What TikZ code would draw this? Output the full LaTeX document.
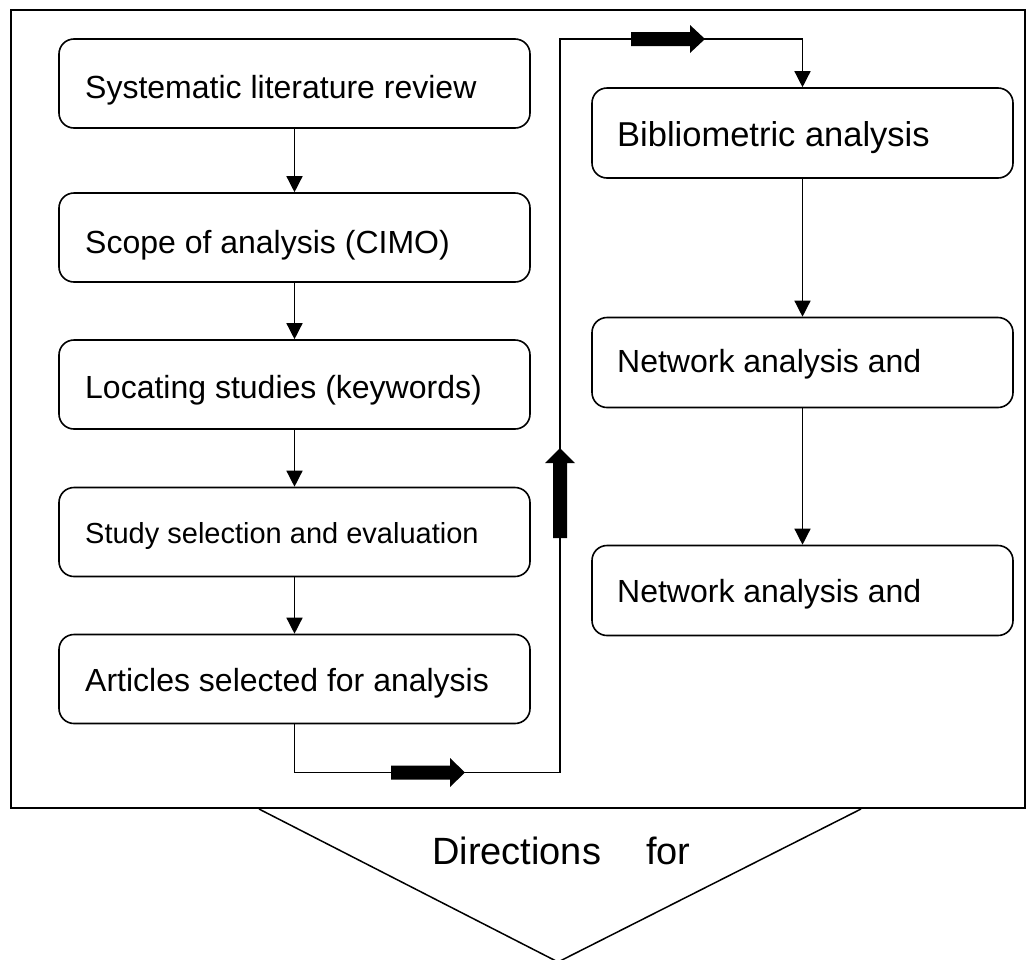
\documentclass[tikz,border=0pt]{standalone}
\usepackage{fontspec}
\setmainfont{Liberation Sans}
\usetikzlibrary{arrows.meta}
\begin{document}
\begin{tikzpicture}[x=1pt,y=-1pt,
  lbox/.style={draw, line width=1.6pt, rounded corners=15pt, minimum width=471pt, minimum height=89pt, inner sep=0pt},
  rbox/.style={draw, line width=1.6pt, rounded corners=15pt, minimum width=421pt, minimum height=90pt, inner sep=0pt},
  lbl/.style={inner sep=0pt, anchor=base west, font=\fontsize{32}{38}\selectfont},
  conn/.style={line width=1.4pt, -{Triangle[length=16pt,width=16pt]}},
  blockarrow/.style={fill=black}
]
\useasboundingbox (0,0) rectangle (1031,959);
% outer frame
\draw[line width=1.8pt] (11,10) rectangle (1025,808);
% triangle
\draw[line width=1.5pt] (259,809) -- (558,962) -- (861,809);
\node[inner sep=0pt, anchor=base west, font=\fontsize{38}{44}\selectfont] (dir) at (432,864) {Directions\hspace{45pt}for};

% left boxes
\node[lbox] (b1) at (294.5,83.5) {};
\node[lbox] (b2) at (294.5,237.5) {};
\node[lbox] (b3) at (294.5,384.5) {};
\node[lbox] (b4) at (294.5,532) {};
\node[lbox] (b5) at (294.5,679) {};
\node[lbl] (t1) at (85,98) {Systematic literature review};
\node[lbl] (t2) at (85,253) {Scope of analysis (CIMO)};
\node[lbl] (t3) at (85,398) {Locating studies (keywords)};
\node[lbl, font=\fontsize{29}{35}\selectfont] (t4) at (85,543) {Study selection and evaluation};
\node[lbl] (t5) at (85,691) {Articles selected for analysis};

% right boxes
\node[rbox] (r1) at (802.5,133) {};
\node[rbox] (r2) at (802.5,362.5) {};
\node[rbox] (r3) at (802.5,590.5) {};
\node[lbl, font=\fontsize{34.5}{40}\selectfont] (s1) at (617,146) {Bibliometric analysis};
\node[lbl] (s2) at (617,372) {Network analysis and};
\node[lbl] (s3) at (617,602) {Network analysis and};

% connectors
\draw[conn] (b1.south) -- (b2.north);
\draw[conn] (b2.south) -- (b3.north);
\draw[conn] (b3.south) -- (b4.north);
\draw[conn] (b4.south) -- (b5.north);
\draw[conn] (r1.south) -- (r2.north);
\draw[conn] (r2.south) -- (r3.north);

\coordinate (c1) at (560,772.5);
\coordinate (c2) at (560,39);
\draw[conn] (b5.south) |- (c1) -- (c2) -| (r1.north);

% block arrows
\fill[blockarrow] (391,765.5) -- (450,765.5) -- (450,758) -- (465,772.5) -- (450,787) -- (450,779.5) -- (391,779.5) -- cycle;
\fill[blockarrow] (553,538) -- (553,463) -- (545,463) -- (560,448) -- (575,463) -- (567,463) -- (567,538) -- cycle;
\fill[blockarrow] (631,32) -- (690,32) -- (690,25) -- (705,39) -- (690,53) -- (690,46) -- (631,46) -- cycle;
\end{tikzpicture}
\end{document}
